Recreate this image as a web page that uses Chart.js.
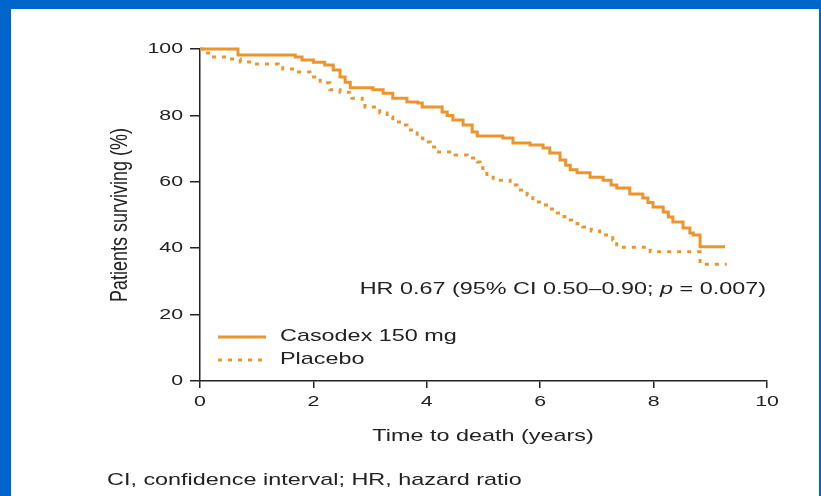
<!DOCTYPE html>
<html>
<head>
<meta charset="utf-8">
<script src="https://cdn.jsdelivr.net/npm/chart.js@4/dist/chart.umd.min.js"></script>
<style>
  html, body { margin: 0; padding: 0; }
  body { width: 821px; height: 496px; background: #0066cc; position: relative; overflow: hidden; }
  #panel { position: absolute; left: 11px; top: 9px; width: 808px; height: 487px; background: #fff; }
  #wrap { position: absolute; left: 0; top: 0; width: 821px; height: 496px; }
</style>
</head>
<body>
<div id="panel"></div>
<div id="wrap"><canvas id="kmChart"></canvas></div>
<script>
// Kaplan-Meier survival, read as (time in years, % surviving) at each step
const casodexYears = [0, 0.58, 0.67, 1.68, 1.80, 2.00, 2.20, 2.35, 2.47, 2.56, 2.65, 3.05, 3.23, 3.40, 3.65, 3.84, 3.92,
  4.27, 4.36, 4.46, 4.64, 4.80, 4.89, 5.34, 5.52, 5.82, 6.05, 6.17, 6.35, 6.45, 6.53, 6.65, 6.88, 7.11, 7.25, 7.35,
  7.58, 7.81, 7.90, 7.99, 8.17, 8.26, 8.34, 8.52, 8.64, 8.70, 8.82, 9.26];
const casodexSurvival = [100, 100, 98.2, 97.6, 96.7, 96.0, 95.2, 93.7, 91.6, 90.0, 88.3, 87.7, 86.7, 85.2, 84.0, 83.7, 82.5,
  81.0, 80.0, 78.6, 77.1, 75.0, 73.8, 73.2, 71.7, 71.1, 70.2, 68.7, 66.6, 65.0, 63.6, 62.7, 61.4, 60.5, 59.0, 58.1,
  56.3, 55.1, 53.8, 52.4, 50.9, 49.4, 47.9, 46.1, 44.6, 44.0, 40.4, 40.4];

const placeboYears = [0, 0.08, 0.18, 0.48, 0.71, 0.93, 1.38, 1.46, 1.71, 1.94, 2.12, 2.29, 2.47, 2.68, 2.86, 2.91, 3.17,
  3.30, 3.40, 3.56, 3.65, 3.76, 3.83, 3.93, 4.06, 4.18, 4.50, 4.71, 4.89, 4.94, 4.99, 5.06, 5.17, 5.47, 5.59, 5.77,
  5.87, 6.05, 6.17, 6.30, 6.42, 6.53, 6.65, 6.75, 6.90, 7.05, 7.28, 7.35, 7.94, 8.82, 9.29];
const placeboSurvival = [100, 98.8, 97.6, 97.0, 96.1, 95.5, 95.2, 94.0, 93.1, 91.6, 89.8, 87.7, 87.0, 85.2, 84.0, 82.5, 80.7,
  79.5, 78.0, 77.1, 75.6, 74.7, 73.2, 72.0, 70.5, 69.0, 68.1, 67.2, 66.0, 64.2, 63.0, 61.4, 60.5, 59.0, 57.5, 56.0,
  53.9, 53.0, 51.8, 50.6, 49.5, 48.5, 47.4, 46.4, 45.2, 44.0, 42.5, 40.3, 38.9, 35.2, 35.2];

const xTickValues = [0, 2, 4, 6, 8, 10];
const yTickValues = [0, 20, 40, 60, 80, 100];

const seriesNames = ['Casodex 150 mg', 'Placebo'];
const xTitle = 'Time to death (years)';
const yTitle = 'Patients surviving (%)';
const hrNote = ['HR 0.67 (95% CI 0.50\u20130.90; ', 'p', ' = 0.007)'];
const footNote = 'CI, confidence interval; HR, hazard ratio';

const ORANGE = '#eb952c';
const INK = '#222222';
const FONT = '"Liberation Sans", Arial, sans-serif';
const SX = 1.376; // the lettering is set wide

function toPoints(xs, ys) {
  return xs.map((x, i) => ({ x: x, y: ys[i] }));
}

// draws horizontally widened text; align is left / center / right
function wideText(ctx, parts, x, y, size, align) {
  let total = 0;
  const widths = parts.map(p => {
    ctx.font = (p.italic ? 'italic ' : '') + size + 'px ' + FONT;
    const w = ctx.measureText(p.text).width * SX;
    total += w;
    return w;
  });
  let cx = align === 'right' ? x - total : align === 'center' ? x - total / 2 : x;
  parts.forEach((p, i) => {
    ctx.save();
    ctx.font = (p.italic ? 'italic ' : '') + size + 'px ' + FONT;
    ctx.textAlign = 'left';
    ctx.textBaseline = 'middle';
    ctx.fillStyle = INK;
    ctx.translate(cx, y);
    ctx.scale(SX, 1);
    ctx.fillText(p.text, 0, 0);
    ctx.restore();
    cx += widths[i];
  });
}

const lettering = {
  id: 'lettering',
  afterDraw(chart) {
    const ctx = chart.ctx;
    const xs = chart.scales.x, ys = chart.scales.y;

    // tick labels
    xs.ticks.forEach(t => {
      wideText(ctx, [{ text: String(t.value) }], xs.getPixelForValue(t.value), xs.top + 21, 15.5, 'center');
    });
    ys.ticks.forEach(t => {
      wideText(ctx, [{ text: String(t.value) }], ys.right - 17, ys.getPixelForValue(t.value), 15.5, 'right');
    });

    // axis titles
    wideText(ctx, [{ text: xTitle }], (xs.left + xs.right) / 2 - 0.5, 436, 17, 'center');
    ctx.save();
    ctx.font = '18px ' + FONT;
    ctx.fillStyle = INK;
    ctx.textAlign = 'center';
    ctx.textBaseline = 'middle';
    ctx.translate(120, (ys.top + ys.bottom) / 2);
    ctx.scale(SX, 1);
    ctx.rotate(-Math.PI / 2);
    ctx.fillText(yTitle, 0, 0);
    ctx.restore();

    // hazard ratio note
    wideText(ctx, [{ text: hrNote[0] }, { text: hrNote[1], italic: true }, { text: hrNote[2] }], 766, 289, 17, 'right');

    // legend
    const rows = [{ y: 337, dash: [] }, { y: 360, dash: [4, 6] }];
    rows.forEach((r, i) => {
      ctx.save();
      ctx.strokeStyle = ORANGE;
      ctx.lineWidth = 3;
      ctx.setLineDash(r.dash);
      ctx.beginPath();
      ctx.moveTo(218, r.y);
      ctx.lineTo(266, r.y);
      ctx.stroke();
      ctx.restore();
      wideText(ctx, [{ text: seriesNames[i] }], 280, r.y - 1, 17, 'left');
    });

    // footnote
    wideText(ctx, [{ text: footNote }], 107, 480, 17, 'left');
  }
};

const ctx = document.getElementById('kmChart').getContext('2d');
new Chart(ctx, {
  type: 'line',
  data: {
    datasets: [{
      label: seriesNames[0],
      data: toPoints(casodexYears, casodexSurvival),
      borderColor: ORANGE,
      borderWidth: 3,
      stepped: 'before',
      pointRadius: 0,
      clip: 6
    }, {
      label: seriesNames[1],
      data: toPoints(placeboYears, placeboSurvival),
      borderColor: ORANGE,
      borderWidth: 3,
      borderDash: [4, 6],
      stepped: 'before',
      pointRadius: 0,
      clip: 6
    }]
  },
  options: {
    responsive: true,
    maintainAspectRatio: false,
    animation: false,
    layout: { padding: { top: 49, right: 54, left: 0, bottom: 0 } },
    plugins: {
      legend: { display: false },
      tooltip: { enabled: false }
    },
    scales: {
      x: {
        type: 'linear',
        min: 0,
        max: 10,
        afterBuildTicks: s => { s.ticks = xTickValues.map(v => ({ value: v })); },
        afterFit: s => { s.height = 115; },
        ticks: { display: false },
        grid: { drawOnChartArea: false, drawTicks: true, tickLength: 7, color: INK, lineWidth: 1.5 },
        border: { color: INK, width: 1.5 }
      },
      y: {
        type: 'linear',
        min: 0,
        max: 100,
        afterBuildTicks: s => { s.ticks = yTickValues.map(v => ({ value: v })); },
        afterFit: s => { s.width = 200; },
        ticks: { display: false },
        grid: { drawOnChartArea: false, drawTicks: true, tickLength: 10, color: INK, lineWidth: 1.5 },
        border: { color: INK, width: 1.5 }
      }
    }
  },
  plugins: [lettering]
});
</script>
</body>
</html>
